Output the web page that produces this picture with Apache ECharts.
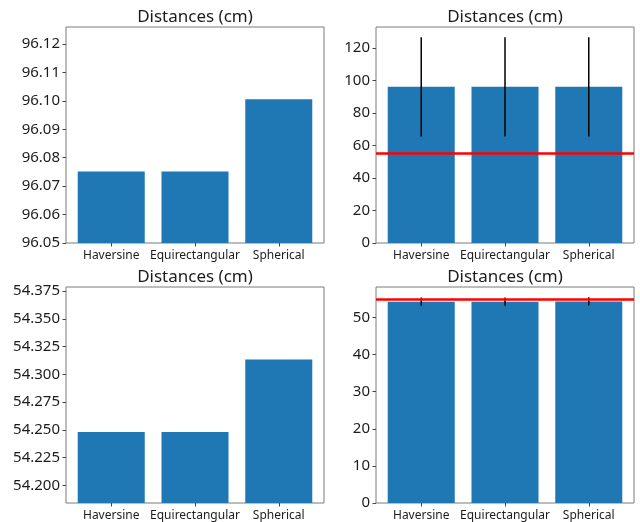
<!DOCTYPE html>
<html>
<head>
<meta charset="utf-8">
<script src="https://cdn.jsdelivr.net/npm/echarts@6/dist/echarts.min.js"></script>
<style>html,body{margin:0;padding:0;background:#fff}#c{width:640px;height:522px}</style>
</head>
<body>
<div id="c"></div>
<script>
const categories = ['Haversine', 'Equirectangular', 'Spherical'];
const distTop = [96.0752, 96.0752, 96.1006];
const errTop = [30.5, 30.5, 30.5];
const refTop = 55;
const distBottom = [54.2482, 54.2482, 54.3134];
const errBottom = [1.1, 1.1, 1.1];
const refBottom = 55;
const ticksTopZoom = [96.05, 96.06, 96.07, 96.08, 96.09, 96.10, 96.11, 96.12];
const ticksTopFull = [0, 20, 40, 60, 80, 100, 120];
const ticksBottomZoom = [54.200, 54.225, 54.250, 54.275, 54.300, 54.325, 54.350, 54.375];
const ticksBottomFull = [0, 10, 20, 30, 40, 50];
const titleText = 'Distances (cm)';

const FONT = '"Noto Sans", "Open Sans", sans-serif';
const TXT = '#1c1c1c';
const FRAME = '#7a7a7a';

const panels = [
  {left: 66, top: 27, ylim: [96.05, 96.126], ticks: ticksTopZoom, dec: 2, vals: distTop},
  {left: 376, top: 27, ylim: [0, 132.9], ticks: ticksTopFull, dec: 0, vals: distTop, err: errTop, ref: refTop},
  {left: 66, top: 287, ylim: [54.1842, 54.3786], ticks: ticksBottomZoom, dec: 3, vals: distBottom},
  {left: 376, top: 287, ylim: [0, 58.2], ticks: ticksBottomFull, dec: 0, vals: distBottom, err: errBottom, ref: refBottom}
];
const W = 258, H = 216;

const grid = [], xAxis = [], yAxis = [], series = [], graphic = [];
panels.forEach((p, i) => {
  grid.push({left: p.left, top: p.top, width: W, height: H, show: true,
    borderColor: FRAME, borderWidth: 1, backgroundColor: 'transparent', containLabel: false});
  xAxis.push({type: 'value', gridIndex: i, min: -0.54, max: 2.54, position: 'bottom',
    axisLine: {show: false, onZero: false}, splitLine: {show: false},
    axisTick: {show: true, length: 3.5, customValues: [0, 1, 2], lineStyle: {color: '#444'}},
    axisLabel: {customValues: [0, 1, 2], margin: 7, color: TXT, fontFamily: FONT, fontSize: 12,
      formatter: v => categories[Math.round(v)] || ''}});
  yAxis.push({type: 'value', gridIndex: i, min: p.ylim[0], max: p.ylim[1], position: 'left',
    axisLine: {show: false, onZero: false}, splitLine: {show: false},
    axisTick: {show: true, length: 3.5, customValues: p.ticks, lineStyle: {color: '#444'}},
    axisLabel: {customValues: p.ticks, margin: 6, color: TXT, fontFamily: FONT, fontSize: 15,
      formatter: v => Number(v).toFixed(p.dec)}});
  series.push({type: 'bar', xAxisIndex: i, yAxisIndex: i, barWidth: '80%', clip: true,
    itemStyle: {color: '#1f77b4'}, silent: true, z: 2,
    data: p.vals.map((v, k) => [k, v])});
  if (p.err) {
    series.push({type: 'custom', xAxisIndex: i, yAxisIndex: i, z: 3, silent: true,
      data: p.vals.map((v, k) => [k, v - p.err[k], v + p.err[k]]),
      renderItem: (params, api) => {
        const a = api.coord([api.value(0), api.value(1)]);
        const b = api.coord([api.value(0), api.value(2)]);
        return {type: 'line', shape: {x1: a[0], y1: a[1], x2: b[0], y2: b[1]},
          style: {stroke: '#000', lineWidth: 1.5}};
      },
      markLine: {silent: true, symbol: 'none', z: 5, label: {show: false},
        lineStyle: {color: '#ff0000', width: 2.5, type: 'solid'},
        emphasis: {disabled: true},
        data: [{yAxis: p.ref}]}
    });
  }
  graphic.push({type: 'text', x: p.left + W / 2, y: p.top - 10,
    style: {text: titleText, align: 'center', verticalAlign: 'middle',
      fontFamily: FONT, fontSize: 17, fill: TXT}});
});

const chart = echarts.init(document.getElementById('c'), null, {renderer: 'canvas'});
chart.setOption({animation: false, backgroundColor: '#fff', grid, xAxis, yAxis, series, graphic});
</script>
</body>
</html>
